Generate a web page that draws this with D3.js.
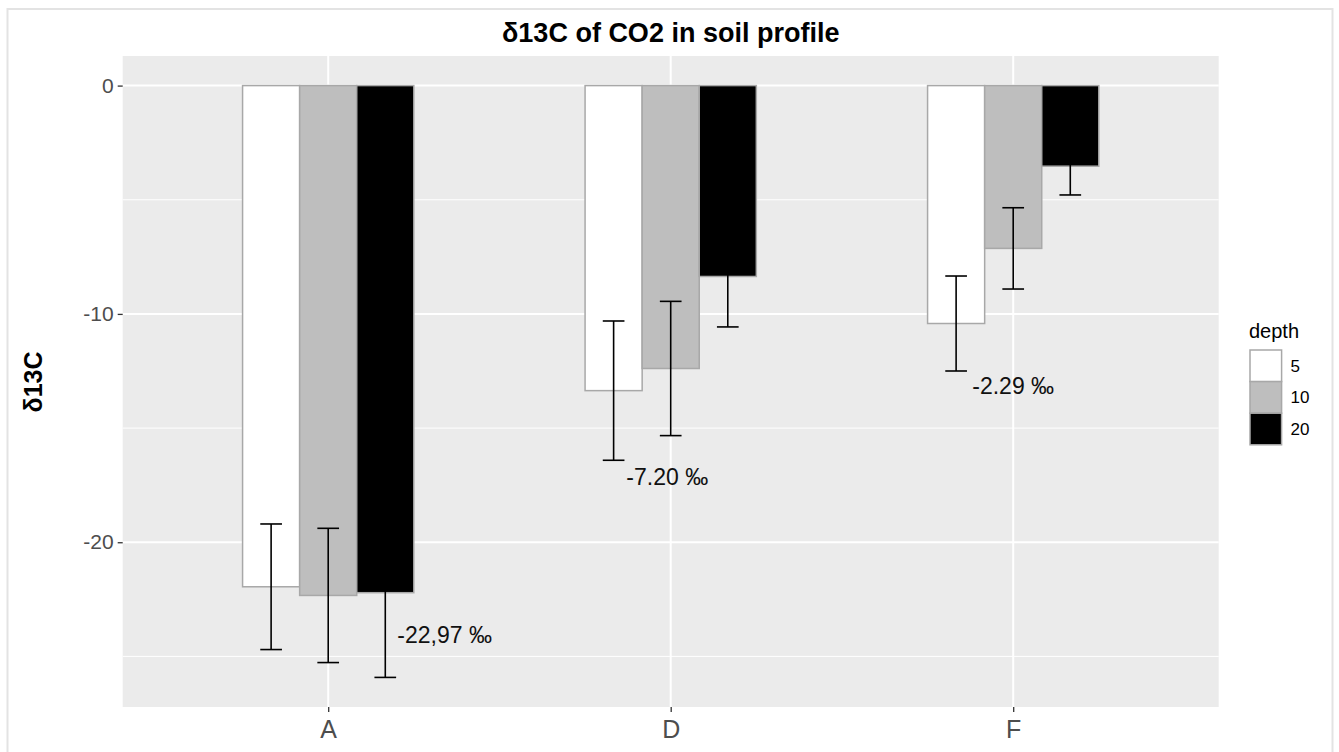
<!DOCTYPE html>
<html>
<head>
<meta charset="utf-8">
<script src="https://cdn.jsdelivr.net/npm/d3@7"></script>
<style>
  body { margin: 0; background: #fff; }
  svg { display: block; font-family: "Liberation Sans", Arial, sans-serif; }
</style>
</head>
<body>
<svg id="chart" width="1339" height="752"></svg>
<script>
// Sites and sampling depths (cm)
const sites = ["A", "D", "F"];
const depths = ["5", "10", "20"];

// Mean δ13C per site, one array per depth
const mean5  = [-21.95, -13.36, -10.42];
const mean10 = [-22.33, -12.39, -7.13];
const mean20 = [-22.21, -8.36, -3.53];

// Error (± half range) per site, one array per depth
const err5  = [2.75, 3.05, 2.08];
const err10 = [2.94, 2.94, 1.78];
const err20 = [3.71, 2.21, 1.26];

// Text notes placed in data space: site, offset along the site axis, δ13C value
const noteText  = ["-22,97 \u2030", "-7.20 \u2030", "-2.29 \u2030"];
const noteSite  = ["A", "D", "F"];
const noteShift = [0.34, -0.01, 0.0];
const noteY     = [-24.08, -17.14, -13.17];

const yTicks = [0, -10, -20];
const yMinor = [-5, -15, -25];

const fills = { "5": "#ffffff", "10": "#bebebe", "20": "#000000" };
const means = { "5": mean5, "10": mean10, "20": mean20 };
const errs  = { "5": err5, "10": err10, "20": err20 };

const rows = [];
depths.forEach(d => sites.forEach((s, i) => rows.push({ site: s, depth: d, mean: means[d][i], err: errs[d][i] })));

const svg = d3.select("#chart");

// outer frame
svg.append("rect").attr("x", 7.5).attr("y", 9).attr("width", 1325).attr("height", 760)
  .attr("fill", "#fff").attr("stroke", "#e3e3e3").attr("stroke-width", 2);

const panel = { left: 122.7, right: 1218.7, top: 56, bottom: 707 };

const x = d3.scalePoint().domain(sites).range([panel.left, panel.right]).padding(0.6);
const groupWidth = x.step() * 0.5;
const xd = d3.scaleBand().domain(depths).range([-groupWidth / 2, groupWidth / 2]);

const lo = d3.min(rows, r => r.mean - r.err);
const hi = Math.max(0, d3.max(rows, r => r.mean + 0));
const pad = (hi - lo) * 0.05;
const y = d3.scaleLinear().domain([lo - pad, hi + pad]).range([panel.bottom, panel.top]);

// panel background
svg.append("rect").attr("x", panel.left).attr("y", panel.top)
  .attr("width", panel.right - panel.left).attr("height", panel.bottom - panel.top)
  .attr("fill", "#ebebeb");

// grid
const grid = svg.append("g");
grid.selectAll("line.minor").data(yMinor).join("line")
  .attr("x1", panel.left).attr("x2", panel.right)
  .attr("y1", d => y(d)).attr("y2", d => y(d))
  .attr("stroke", "#fff").attr("stroke-width", 1);
grid.selectAll("line.major").data(yTicks).join("line")
  .attr("x1", panel.left).attr("x2", panel.right)
  .attr("y1", d => y(d)).attr("y2", d => y(d))
  .attr("stroke", "#fff").attr("stroke-width", 2);
grid.selectAll("line.vx").data(sites).join("line")
  .attr("x1", d => x(d)).attr("x2", d => x(d))
  .attr("y1", panel.top).attr("y2", panel.bottom)
  .attr("stroke", "#fff").attr("stroke-width", 2);

// bars
svg.append("g").selectAll("rect").data(rows).join("rect")
  .attr("x", d => x(d.site) + xd(d.depth))
  .attr("width", xd.bandwidth())
  .attr("y", d => y(Math.max(0, d.mean)))
  .attr("height", d => Math.abs(y(d.mean) - y(0)))
  .attr("fill", d => fills[d.depth])
  .attr("stroke", "#a8a8a8").attr("stroke-width", 1.5);

// error bars
const capHalf = xd.bandwidth() * 0.19;
const eb = svg.append("g").attr("stroke", "#000").attr("stroke-width", 1.6).attr("fill", "none");
rows.forEach(d => {
  const cx = x(d.site) + xd(d.depth) + xd.bandwidth() / 2;
  const y1 = y(d.mean + d.err), y2 = y(d.mean - d.err);
  eb.append("line").attr("x1", cx).attr("x2", cx).attr("y1", y1).attr("y2", y2);
  eb.append("line").attr("x1", cx - capHalf).attr("x2", cx + capHalf).attr("y1", y1).attr("y2", y1);
  eb.append("line").attr("x1", cx - capHalf).attr("x2", cx + capHalf).attr("y1", y2).attr("y2", y2);
});

// notes
svg.append("g").selectAll("text").data(noteText).join("text")
  .attr("x", (d, i) => x(noteSite[i]) + noteShift[i] * x.step())
  .attr("y", (d, i) => y(noteY[i]))
  .attr("dy", "0.35em")
  .attr("text-anchor", "middle")
  .attr("font-size", 23).attr("fill", "#111")
  .text(d => d);

// y axis
const yAxis = svg.append("g").attr("transform", `translate(${panel.left},0)`)
  .call(d3.axisLeft(y).tickValues(yTicks).tickSize(5).tickPadding(4).tickFormat(d => String(d)));
yAxis.select(".domain").remove();
yAxis.selectAll(".tick line").attr("stroke", "#333").attr("stroke-width", 1.3);
yAxis.selectAll(".tick text").attr("font-size", 21).attr("fill", "#4d4d4d")
  .attr("font-family", "Liberation Sans, Arial, sans-serif");

// x axis
const xAxis = svg.append("g").attr("transform", `translate(0,${panel.bottom})`)
  .call(d3.axisBottom(x).tickSize(5).tickPadding(8));
xAxis.select(".domain").remove();
xAxis.selectAll(".tick line").attr("stroke", "#333").attr("stroke-width", 1.3);
xAxis.selectAll(".tick text").attr("font-size", 25).attr("fill", "#4d4d4d")
  .attr("font-family", "Liberation Sans, Arial, sans-serif");

// titles
svg.append("text").attr("x", (panel.left + panel.right) / 2).attr("y", 42)
  .attr("text-anchor", "middle").attr("font-size", 27).attr("font-weight", "bold")
  .attr("fill", "#000").text("δ13C of CO2 in soil profile");

svg.append("text").attr("transform", `translate(42,382) rotate(-90)`)
  .attr("text-anchor", "middle").attr("font-size", 25).attr("font-weight", "bold")
  .attr("fill", "#000").text("δ13C");

// legend
const lg = svg.append("g").attr("transform", "translate(1250,350)");
lg.append("text").attr("x", -1).attr("y", -12).attr("font-size", 20).attr("fill", "#000").text("depth");
const key = 31.6;
depths.forEach((d, i) => {
  lg.append("rect").attr("x", 0).attr("y", i * key).attr("width", key).attr("height", key)
    .attr("fill", fills[d]).attr("stroke", "#a8a8a8").attr("stroke-width", 1.5);
  lg.append("text").attr("x", key + 9).attr("y", i * key + key / 2).attr("dy", "0.35em")
    .attr("font-size", 17).attr("fill", "#000").text(d);
});
</script>
</body>
</html>
